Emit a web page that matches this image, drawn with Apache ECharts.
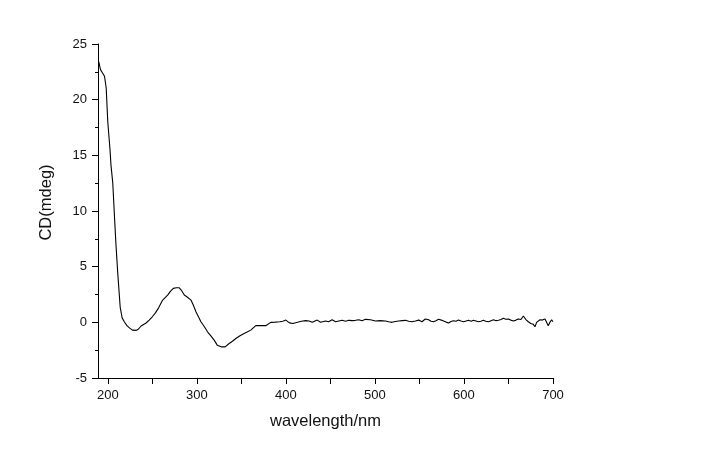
<!DOCTYPE html>
<html>
<head>
<meta charset="utf-8">
<title>CD spectrum</title>
<script src="https://cdn.jsdelivr.net/npm/echarts@6/dist/echarts.min.js"></script>
<style>
  html, body { margin: 0; padding: 0; background: #fff; }
  #chart { width: 720px; height: 465px; }
</style>
</head>
<body>
<div id="chart"></div>
<script>
// wavelength (nm)
var wavelength = [
  189.9, 191.8, 194.1, 196.3, 198.2, 200, 202.5, 203.6, 205.6, 207.5,
  209.2, 211.2, 213.9, 216.1, 218.7, 221.5, 224.3, 227.7, 232.1, 234.5,
  237.4, 243, 246.5, 250, 253.5, 257.1, 261.6, 267.2, 270.5, 273.6,
  277, 280.3, 282.5, 285.9, 289.5, 293.4, 296, 299, 304.6, 308.5,
  312, 315.5, 319.5, 322.9, 327.3, 331.8, 336.3, 340, 343.8, 348.5,
  353.1, 357, 360.6, 366.2, 371, 377.4, 383, 388, 393, 396.5,
  400, 404, 408, 413, 417.5, 422.2, 426, 429.6, 435.2, 439,
  444.6, 448, 452, 455.8, 459.5, 463.2, 467, 470.7, 474.5, 478.2,
  481.9, 485.5, 489.4, 495, 500.6, 506, 511.8, 515.5, 519.2, 523,
  526.7, 530.5, 534.2, 538, 541.6, 545.5, 549.1, 552.8, 556.6, 560.3,
  563, 565.9, 568.5, 571.5, 574.5, 577.1, 580, 582.7, 585.5, 588.3,
  591, 593.9, 596.5, 599.5, 602.5, 605.1, 608, 610.7, 613.5, 616.3,
  619, 621.9, 624.5, 627.5, 630.5, 633.1, 636, 638.7, 641.5, 644.3,
  647, 649.9, 652.5, 655.5, 658.5, 661.1, 664, 666.7, 669.5, 672.3,
  675, 677.9, 679.8, 681.6, 683.5, 685.4, 688, 691, 693, 694.7,
  696.5, 698.4, 700
];

// CD signal (mdeg)
var cdSignal = [
  23.4, 22.7, 22.4, 22.1, 21.05, 18.0, 15.5, 14.1, 12.5, 9.5,
  6.95, 4.4, 1.37, 0.4, 0.03, -0.3, -0.5, -0.7, -0.72, -0.6,
  -0.33, -0.06, 0.2, 0.5, 0.85, 1.3, 2.0, 2.45, 2.8, 3.05,
  3.1, 3.1, 2.9, 2.45, 2.25, 2.0, 1.55, 0.95, 0.05, -0.4,
  -0.85, -1.2, -1.6, -2.05, -2.2, -2.2, -1.9, -1.7, -1.45, -1.2,
  -1.0, -0.85, -0.7, -0.3, -0.28, -0.3, 0.0, 0.02, 0.05, 0.1,
  0.2, -0.05, -0.1, 0.0, 0.1, 0.15, 0.12, 0.0, 0.2, 0.0,
  0.12, 0.05, 0.23, 0.05, 0.12, 0.18, 0.1, 0.18, 0.15, 0.18,
  0.23, 0.15, 0.27, 0.23, 0.12, 0.15, 0.12, 0.05, 0.0, 0.08,
  0.12, 0.15, 0.18, 0.1, 0.05, 0.12, 0.2, 0.05, 0.3, 0.23,
  0.1, 0.05, 0.15, 0.27, 0.2, 0.12, 0.02, -0.06, 0.08, 0.15,
  0.1, 0.2, 0.12, 0.05, 0.12, 0.18, 0.1, 0.18, 0.12, 0.05,
  0.1, 0.18, 0.1, 0.05, 0.15, 0.23, 0.15, 0.18, 0.25, 0.36,
  0.28, 0.3, 0.2, 0.12, 0.2, 0.3, 0.25, 0.57, 0.25, 0.05,
  -0.1, -0.18, -0.4, 0.0, 0.1, 0.23, 0.2, 0.3, 0.15, -0.3,
  0.0, 0.23, 0.05
];

var xMajorTicks = [200, 300, 400, 500, 600, 700];
var xAllTicks = [200, 250, 300, 350, 400, 450, 500, 550, 600, 650, 700];

var points = wavelength.map(function (w, i) { return [w, cdSignal[i]]; });

var chart = echarts.init(document.getElementById('chart'), null, { renderer: 'canvas' });

var textFont = 'Liberation Sans, Arial, sans-serif';

chart.setOption({
  backgroundColor: '#ffffff',
  animation: false,
  grid: { left: 98, right: 167, top: 44, bottom: 87 },
  xAxis: {
    type: 'value',
    min: 189,
    max: 700,
    name: 'wavelength/nm',
    nameLocation: 'middle',
    nameGap: 35,
    nameTextStyle: { fontFamily: textFont, fontSize: 16.5, color: '#111' },
    axisLine: { show: true, onZero: false, lineStyle: { color: '#000', width: 1 } },
    axisTick: { show: true, length: 6, customValues: xAllTicks, lineStyle: { color: '#000' } },
    axisLabel: { customValues: xMajorTicks, margin: 11, fontFamily: textFont, fontSize: 13, color: '#111' },
    splitLine: { show: false }
  },
  yAxis: {
    type: 'value',
    min: -5,
    max: 25,
    interval: 5,
    name: 'CD(mdeg)',
    nameLocation: 'middle',
    nameGap: 43,
    nameTextStyle: { fontFamily: textFont, fontSize: 16.5, color: '#111', padding: [0, 0, 0, 17] },
    axisLine: { show: true, onZero: false, lineStyle: { color: '#000', width: 1 } },
    axisTick: { show: true, length: 6, lineStyle: { color: '#000' } },
    minorTick: { show: true, splitNumber: 2, length: 3, lineStyle: { color: '#000' } },
    axisLabel: { margin: 11, fontFamily: textFont, fontSize: 13, color: '#111' },
    splitLine: { show: false }
  },
  series: [{
    type: 'line',
    data: points,
    showSymbol: false,
    smooth: false,
    lineStyle: { color: '#000', width: 1.1 }
  }]
});
</script>
</body>
</html>
